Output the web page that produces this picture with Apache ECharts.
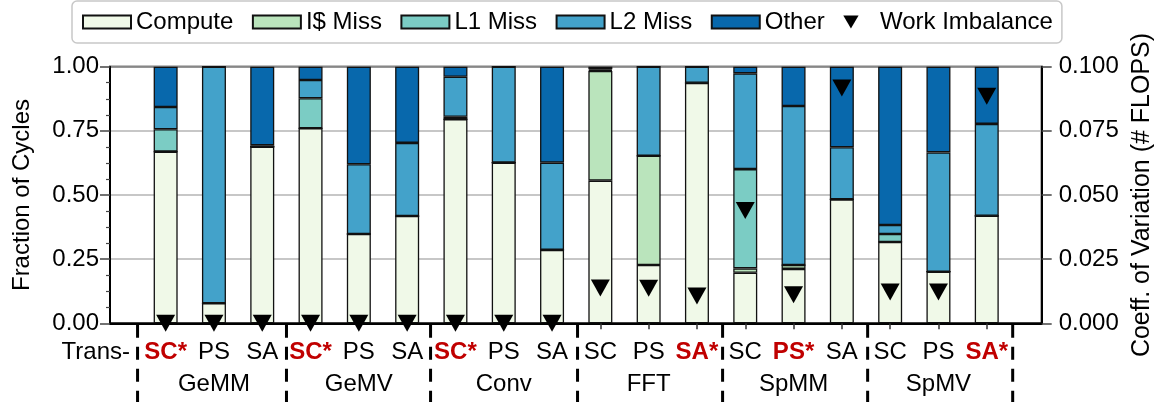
<!DOCTYPE html>
<html>
<head>
<meta charset="utf-8">
<script src="https://cdn.jsdelivr.net/npm/echarts@6/dist/echarts.min.js"></script>
<style>html,body{margin:0;padding:0;background:#fff;}#c{width:1165px;height:402px;}</style>
</head>
<body>
<div id="c"></div>
<script>
// ---- data ----
const groups = ['GeMM', 'GeMV', 'Conv', 'FFT', 'SpMM', 'SpMV'];
const methods = ['SC', 'PS', 'SA'];
const starred = ['SC', 'SC', 'SC', 'SA', 'PS', 'SA'];
const compute = [0.669, 0.078, 0.688, 0.760, 0.348, 0.418, 0.795, 0.626, 0.286, 0.556, 0.227, 0.937, 0.197, 0.212, 0.483, 0.317, 0.201, 0.419];
const icMiss  = [0, 0, 0, 0, 0, 0, 0, 0, 0, 0.427, 0.426, 0, 0.017, 0.015, 0, 0, 0, 0];
const l1Miss  = [0.087, 0, 0, 0.117, 0, 0, 0.010, 0, 0, 0.003, 0, 0, 0.387, 0, 0, 0.031, 0, 0];
const l2Miss  = [0.087, 0.922, 0.006, 0.071, 0.272, 0.285, 0.156, 0.374, 0.340, 0.004, 0.347, 0.063, 0.373, 0.620, 0.203, 0.035, 0.465, 0.358];
const other   = [0.157, 0, 0.306, 0.052, 0.380, 0.297, 0.039, 0, 0.374, 0.010, 0, 0, 0.026, 0.153, 0.314, 0.617, 0.334, 0.223];
const imbalance = [0, 0, 0, 0, 0, 0, 0, 0, 0, 0.0138, 0.0137, 0.0106, 0.044, 0.0111, 0.0917, 0.0122, 0.0122, 0.0885];
const leftTicks = [0, 0.25, 0.5, 0.75, 1.0];
const rightTicks = [0, 0.025, 0.05, 0.075, 0.1];
const groupBoundaries = [-0.58, 2.5, 5.48, 8.52, 11.52, 14.52, 17.52];

// ---- chart ----
const FONT = '"Liberation Sans", Arial, Helvetica, sans-serif';
const categories = [];
groups.forEach(g => methods.forEach(m => categories.push(g + ' ' + m)));
const tri = 'path://M0,0L20,0L10,17Z';
const stackDefs = [
  ['Compute', compute, '#f0f9e8'],
  ['I$ Miss', icMiss, '#bae4bc'],
  ['L1 Miss', l1Miss, '#7bccc4'],
  ['L2 Miss', l2Miss, '#43a2ca'],
  ['Other', other, '#0868ac']
];

const chart = echarts.init(document.getElementById('c'), null, {renderer: 'canvas'});

const series = stackDefs.map(([name, arr, color]) => ({
  name, type: 'bar', stack: 'cycles', xAxisIndex: 1, yAxisIndex: 2,
  barWidth: 24,
  itemStyle: {color, borderColor: '#111', borderWidth: 1.3},
  emphasis: {disabled: true},
  data: arr.slice(),
  z: 3
}));

series.push({
  name: 'Work Imbalance', type: 'scatter', xAxisIndex: 1, yAxisIndex: 3,
  symbol: tri, symbolSize: [19, 17], symbolKeepAspect: false,
  itemStyle: {color: '#000', opacity: 1},
  emphasis: {disabled: true},
  clip: true,
  data: imbalance.slice(),
  z: 5
});

series.push({
  name: 'sep', type: 'custom', xAxisIndex: 0, yAxisIndex: 0, clip: false, silent: true,
  data: groupBoundaries.map(b => [b, 0]),
  renderItem: (params, api) => {
    const p = api.coord([api.value(0), 0]);
    return {
      type: 'line',
      shape: {x1: p[0], y1: p[1] + 1.5, x2: p[0], y2: p[1] + 80},
      style: {stroke: '#000', lineWidth: 3, lineDash: [13, 9]}
    };
  },
  z: 6
});

const gridTop = 66.7, gridBottom = 78.7;

const option = {
  animation: false,
  backgroundColor: '#fff',
  textStyle: {fontFamily: FONT},
  legend: {
    left: 72, top: 1,
    padding: [9, 9, 9, 10],
    itemGap: 18.5, itemWidth: 48, itemHeight: 13,
    backgroundColor: '#fff', borderColor: '#c8c8c8', borderWidth: 1.5, borderRadius: 5,
    textStyle: {fontSize: 24, color: '#000', fontFamily: FONT},
    data: [
      {name: 'Compute', icon: 'rect'},
      {name: 'I$ Miss', icon: 'rect'},
      {name: 'L1 Miss', icon: 'rect'},
      {name: 'L2 Miss', icon: 'rect'},
      {name: 'Other', icon: 'rect'},
      {name: 'Work Imbalance', icon: tri, itemStyle: {color: '#000', opacity: 1}}
    ],
    selectedMode: false
  },
  grid: [
    {left: 110, right: 123.3, top: gridTop, bottom: gridBottom,
     show: true, borderColor: '#000', borderWidth: 2, backgroundColor: '#fff'},
    {left: 141.5, right: 154.1, top: gridTop, bottom: gridBottom, show: false}
  ],
  xAxis: [
    {
      type: 'value', gridIndex: 0, min: -1.15, max: 18.12,
      axisLine: {show: true, onZero: false, lineStyle: {color: '#000', width: 2}},
      splitLine: {show: false}, axisTick: {show: false}, axisLabel: {show: false}
    },
    {
      type: 'category', gridIndex: 1, data: categories, boundaryGap: true,
      axisLine: {show: false, onZero: false},
      splitLine: {show: false},
      axisTick: {show: true, alignWithLabel: true, interval: 0, length: 6, lineStyle: {color: '#333', width: 1.5}},
      axisLabel: {
        show: true, interval: 0, margin: 13,
        formatter: (val, idx) => {
          const g = Math.floor(idx / 3), m = idx % 3;
          const name = methods[m];
          let s = (starred[g] === name) ? '{r|' + name + '*}' : '{n|' + name + '}';
          if (m === 1) s += '\n{g|' + groups[g] + '}';
          return s;
        },
        rich: {
          n: {fontSize: 24, color: '#000', lineHeight: 32, fontFamily: FONT},
          r: {fontSize: 24, color: '#c00000', fontWeight: 'bold', lineHeight: 32, fontFamily: FONT},
          g: {fontSize: 24, color: '#000', lineHeight: 32, fontFamily: FONT}
        }
      }
    }
  ],
  yAxis: [
    {
      type: 'value', gridIndex: 0, min: leftTicks[0], max: leftTicks[leftTicks.length - 1], interval: 0.25,
      position: 'left',
      name: 'Fraction of Cycles', nameLocation: 'middle', nameRotate: 90, nameGap: 76,
      nameTextStyle: {fontSize: 24, color: '#000', fontFamily: FONT},
      axisLine: {show: true, onZero: false, lineStyle: {color: '#000', width: 2}},
      axisTick: {show: true, length: 10, lineStyle: {color: '#444', width: 1.5}},
      minorTick: {show: true, splitNumber: 4, length: 4, lineStyle: {color: '#444', width: 1.2}},
      axisLabel: {fontSize: 24, color: '#000', margin: 11, formatter: v => v.toFixed(2)},
      splitLine: {show: true, lineStyle: {color: '#b4b4b4', width: 1.5}}
    },
    {
      type: 'value', gridIndex: 0, min: rightTicks[0], max: rightTicks[rightTicks.length - 1], interval: 0.025,
      position: 'right',
      name: 'Coeff. of Variation (# FLOPS)', nameLocation: 'middle', nameRotate: 90, nameGap: 86,
      nameTextStyle: {fontSize: 25, color: '#000', fontFamily: FONT},
      axisLine: {show: true, onZero: false, lineStyle: {color: '#000', width: 2}},
      axisTick: {show: true, length: 10, lineStyle: {color: '#444', width: 1.5}},
      axisLabel: {fontSize: 24, color: '#000', margin: 17, formatter: v => v.toFixed(3)},
      splitLine: {show: false}
    },
    {type: 'value', gridIndex: 1, min: leftTicks[0], max: leftTicks[leftTicks.length - 1], show: false},
    {type: 'value', gridIndex: 1, min: rightTicks[0], max: rightTicks[rightTicks.length - 1], show: false, position: 'right'}
  ],
  graphic: [
    {type: 'text', x: 130, y: 352, z: 10,
     style: {text: 'Trans-', fontSize: 24, fontFamily: FONT, fill: '#000', align: 'right', verticalAlign: 'middle'}}
  ],
  series
};
chart.setOption(option);
</script>
</body>
</html>
